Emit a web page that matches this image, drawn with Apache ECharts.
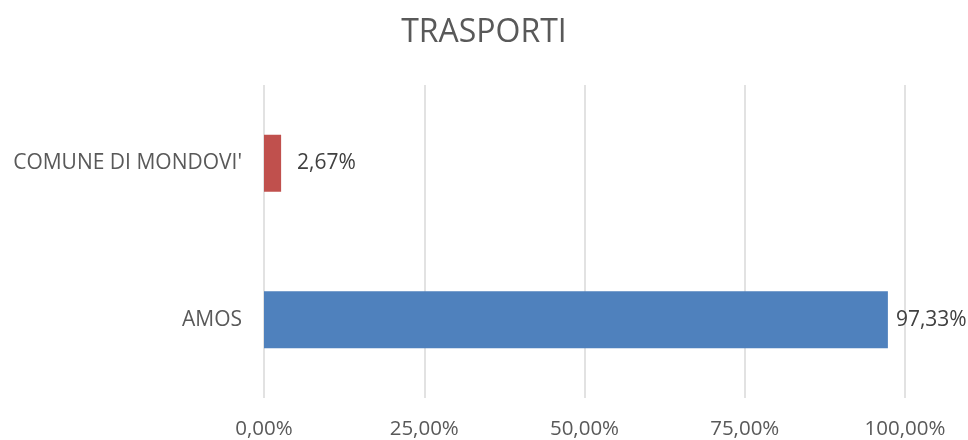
<!DOCTYPE html>
<html>
<head>
<meta charset="utf-8">
<script src="https://cdn.jsdelivr.net/npm/echarts@6/dist/echarts.min.js"></script>
<style>
  html, body { margin: 0; padding: 0; background: #fff; }
  #chart { width: 968px; height: 440px; }
</style>
</head>
<body>
<div id="chart"></div>
<script>
// dati
var categories = ["AMOS", "COMUNE DI MONDOVI'"];
var values = [97.33, 2.67];
var barColors = ["#4F81BD", "#C0504D"];
var labelGaps = [8, 16];
var titleText = "TRASPORTI";

function pct(v) {
  return v.toFixed(2).replace(".", ",") + "%";
}

var myChart = echarts.init(document.getElementById("chart"));
var option = {
  backgroundColor: "#ffffff",
  animation: false,
  textStyle: { fontFamily: "Open Sans" },
  title: {
    text: titleText,
    left: "center",
    top: 12,
    textStyle: {
      color: "#595959",
      fontSize: 32,
      fontWeight: "normal",
      fontFamily: "Open Sans"
    }
  },
  grid: {
    left: 264,
    right: 63,
    top: 85,
    bottom: 40,
    containLabel: false
  },
  xAxis: {
    type: "value",
    min: 0,
    max: 100,
    interval: 25,
    axisLine: { show: false },
    axisTick: { show: false },
    splitLine: { lineStyle: { color: "#D9D9D9", width: 1.5 } },
    axisLabel: {
      color: "#595959",
      fontSize: 20.5,
      margin: 21,
      formatter: function (v) { return pct(v); }
    }
  },
  yAxis: {
    type: "category",
    data: categories,
    axisLine: { show: false },
    axisTick: { show: false },
    axisLabel: { color: "#595959", fontSize: 21, margin: 22 }
  },
  series: [
    {
      type: "bar",
      barWidth: 57,
      data: values.map(function (v, i) {
        return {
          value: v,
          itemStyle: { color: barColors[i] },
          label: { distance: labelGaps[i] }
        };
      }),
      label: {
        show: true,
        position: "right",
        color: "#404040",
        fontSize: 21,
        formatter: function (p) { return pct(p.value); }
      }
    }
  ]
};
myChart.setOption(option);
</script>
</body>
</html>
